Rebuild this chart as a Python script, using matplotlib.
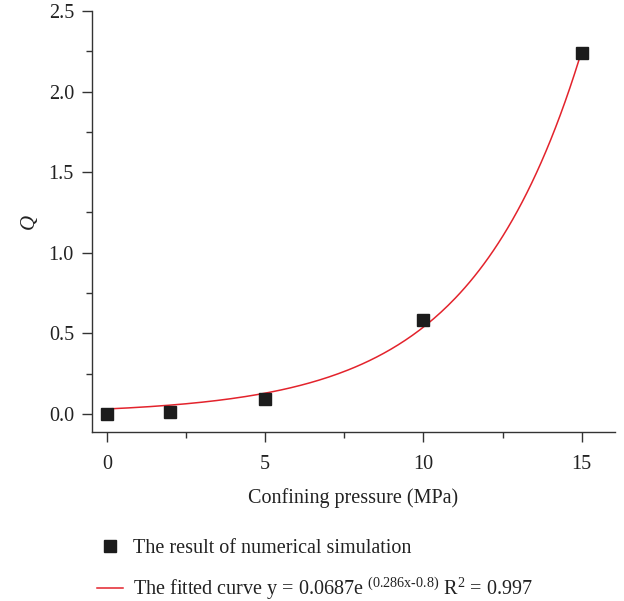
import numpy as np
import matplotlib
matplotlib.use("Agg")
import matplotlib.pyplot as plt
from matplotlib.ticker import MultipleLocator

plt.rcParams['font.family'] = ['Liberation Serif', 'DejaVu Serif']
plt.rcParams['mathtext.fontset'] = 'custom'
plt.rcParams['mathtext.rm'] = 'Liberation Serif'
plt.rcParams['mathtext.it'] = 'Liberation Serif:italic'

# numerical simulation results
pressure = [0, 2, 5, 10, 15]
q_sim = [0.0, 0.01, 0.09, 0.58, 2.24]

# fitted curve parameters (from legend): y = a * exp(b*x + c)
fit_a = 0.0687
fit_b = 0.286
fit_c = -0.8

x_fit = np.linspace(0, 15, 200)
y_fit = fit_a * np.exp(fit_b * x_fit + fit_c)

fig = plt.figure(figsize=(6.24, 6.01), dpi=100)
ax = fig.add_axes([0.1474, 0.2812, 0.8382, 0.7005])

line, = ax.plot(x_fit, y_fit, color='#e3232c', lw=1.1)
pts, = ax.plot(pressure, q_sim, 's', color='#1c1c1c', ms=8, ls='none')

ax.set_xlim(-0.47, 16.05)
ax.set_ylim(-0.112, 2.5)
ax.xaxis.set_major_locator(MultipleLocator(5))
ax.xaxis.set_minor_locator(MultipleLocator(2.5))
ax.yaxis.set_major_locator(MultipleLocator(0.5))
ax.yaxis.set_minor_locator(MultipleLocator(0.25))
ax.yaxis.set_major_formatter(matplotlib.ticker.FormatStrFormatter('%.1f'))

for s in ['top', 'right']:
    ax.spines[s].set_visible(False)
for s in ['left', 'bottom']:
    ax.spines[s].set_color('#333333')
    ax.spines[s].set_linewidth(1.0)

fs = 14.5
ax.tick_params(which='major', direction='out', length=7, width=1, colors='#333333',
               labelsize=fs, labelcolor='#222222')
ax.tick_params(which='minor', direction='out', length=4, width=1, colors='#333333')
ax.tick_params(axis='x', which='major', pad=9.5)
ax.tick_params(axis='y', which='major', pad=6)

ax.set_xlabel('Confining pressure (MPa)', fontsize=fs, color='#222222', labelpad=10)
ax.set_ylabel('Q', fontsize=15, style='italic', color='#222222', labelpad=7)

label_fit = (r'The fitted curve y = 0.0687e $^{\mathrm{(0.286x\text{-}0.8)}}$'
             r' R$^{\mathrm{2}}$ = 0.997')
fig.legend([pts, line], ['The result of numerical simulation', label_fit],
           loc='upper left', bbox_to_anchor=(97 / 624, 1 - 539 / 601), frameon=False,
           fontsize=fs, labelspacing=0.85, handlelength=1.3, handletextpad=0.5,
           borderpad=0, borderaxespad=0, labelcolor='#222222',
           bbox_transform=fig.transFigure)

fig.savefig('out.png', dpi=100)
